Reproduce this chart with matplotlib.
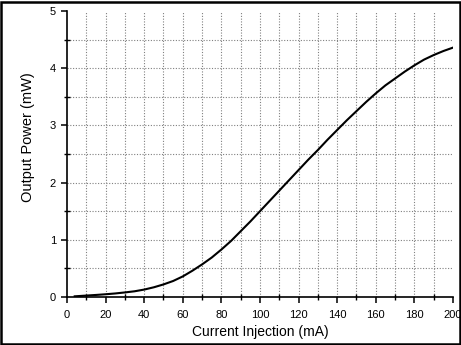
import matplotlib
matplotlib.use('Agg')
import matplotlib.pyplot as plt
import numpy as np
from matplotlib.patches import Rectangle
from matplotlib.ticker import MultipleLocator

plt.rcParams['font.family'] = ['Liberation Sans', 'DejaVu Sans']

# readings (mA -> mW)
current_ma = [4, 10, 15, 20, 25, 30, 35, 40, 45, 50, 55, 60, 65, 70, 75,
              80, 85, 90, 95, 100, 105, 110, 115, 120, 125, 130, 135, 140,
              145, 150, 155, 160, 165, 170, 175, 180, 185, 190, 195, 200]
power_mw = [0.012, 0.025, 0.036, 0.048, 0.062, 0.08, 0.10, 0.13, 0.17,
            0.22, 0.28, 0.36, 0.46, 0.57, 0.69, 0.83, 0.98, 1.15, 1.32,
            1.50, 1.68, 1.86, 2.04, 2.22, 2.40, 2.57, 2.75, 2.92, 3.09,
            3.25, 3.41, 3.56, 3.70, 3.82, 3.94, 4.05, 4.15, 4.23, 4.30,
            4.36]

fig = plt.figure(figsize=(4.61, 3.45), dpi=100)
ax = fig.add_axes([0.1453, 0.1391, 0.8373, 0.829])

# dotted grid on every minor step, none along the top/right edge
for gx in np.arange(10, 200, 10):
    ax.axvline(gx, color='#808080', linestyle=(0, (1, 1.5)), linewidth=0.8,
               zorder=1)
for gy in np.arange(0.5, 5, 0.5):
    ax.axhline(gy, color='#808080', linestyle=(0, (1, 1.5)), linewidth=0.8,
               zorder=1)

ax.plot(current_ma, power_mw, color='black', linewidth=1.5, zorder=3)

ax.set_xlim(0, 200)
ax.set_ylim(0, 5)
ax.xaxis.set_major_locator(MultipleLocator(20))
ax.xaxis.set_minor_locator(MultipleLocator(10))
ax.yaxis.set_major_locator(MultipleLocator(1))
ax.yaxis.set_minor_locator(MultipleLocator(0.5))

ax.spines['top'].set_visible(False)
ax.spines['right'].set_visible(False)
for s in ('left', 'bottom'):
    ax.spines[s].set_linewidth(1.2)

ax.tick_params(which='major', direction='out', length=4, width=1.1,
               labelsize=8)
ax.tick_params(axis='x', which='major', pad=5)
ax.tick_params(axis='y', which='major', pad=4)
ax.tick_params(which='minor', direction='inout', length=4, width=1.0)

ax.set_xlabel('Current Injection (mA)', fontsize=10, labelpad=4)
ax.set_ylabel('Output Power (mW)', fontsize=10.5)
ax.yaxis.set_label_coords(-0.083, 0.56)

# black frame round the whole picture
fig.patches.append(Rectangle((0.003, 0.004), 0.994, 0.99,
                             transform=fig.transFigure, fill=False,
                             edgecolor='black', linewidth=1.8))

fig.savefig('out.png', dpi=100)
